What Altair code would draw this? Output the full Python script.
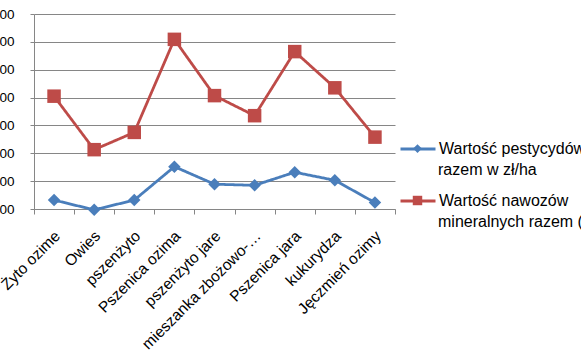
import altair as alt
import pandas as pd

categories = ["Żyto ozime", "Owies", "pszenżyto", "Pszenica ozima", "pszenżyto jare",
              "mieszanka zbożowo-strączkowa", "Pszenica jara", "kukurydza", "Jęczmień ozimy"]
pestycydy = [132, 97, 132, 252, 189, 185, 232, 203, 123]
nawozy = [505, 313, 375, 709, 507, 435, 665, 535, 358]
series_names = ["Wartość pestycydów razem w zł/ha", "Wartość nawozów mineralnych razem (zł/ha)"]
legend_line1 = ["Wartość pestycydów", "Wartość nawozów"]
legend_line2 = ["razem w zł/ha", "mineralnych razem (zł/ha)"]
colors = ["#4A7EBB", "#BE4B48"]
y_ticks = [100, 200, 300, 400, 500, 600, 700, 800]

rows = []
for i, vals in enumerate([pestycydy, nawozy]):
    for c, v in zip(categories, vals):
        rows.append({"kategoria": c, "seria": series_names[i], "linia1": legend_line1[i],
                     "linia2": legend_line2[i], "wartosc": v})
df = pd.DataFrame(rows)

FONT = "Liberation Sans"
# marker shapes (unit box -1..1), drawn small inside a large symbol box
DIAMOND = "M0,-0.25L0.25,0L0,0.25L-0.25,0Z"
SQUARE = "M-0.27,-0.27L0.27,-0.27L0.27,0.27L-0.27,0.27Z"

LEG_X, LEG_Y, SYM, ROWPAD = 365, 116, 1225, 25
common = dict(title=None, orient="none", legendX=LEG_X, symbolSize=SYM, rowPadding=ROWPAD,
              labelFontSize=16, labelFont=FONT, labelOffset=2, labelLimit=300)

x = alt.X("kategoria:N", sort=categories, title=None,
          scale=alt.Scale(type="band", paddingInner=0, paddingOuter=0),
          axis=alt.Axis(labelAngle=-45, labelAlign="right", labelBaseline="middle",
                        labelFontSize=15.5, labelFont=FONT, labelColor="#000000",
                        labelLimit=161, labelPadding=19, labelOffset=3, tickBand="extent", tickSize=5,
                        tickColor="#868686", domainColor="#868686", grid=False))
y = alt.Y("wartosc:Q", title=None,
          scale=alt.Scale(domain=[100, 800], nice=False, zero=False),
          axis=alt.Axis(values=y_ticks, format="d",
                        labelFontSize=13.5, labelFont=FONT, labelColor="#000000", labelPadding=16,
                        tickSize=4, tickColor="#868686", domainColor="#868686",
                        gridColor="#868686", gridWidth=1))

base = alt.Chart(df)

lines = base.mark_line(strokeWidth=2.8, clip=False).encode(
    x=x, y=y,
    stroke=alt.Stroke("linia1:N", scale=alt.Scale(domain=legend_line1, range=colors),
                      legend=alt.Legend(legendY=LEG_Y, symbolType="stroke", symbolStrokeWidth=2.8,
                                        labelColor="#000000", **common)),
    strokeDash=alt.StrokeDash("linia2:N", scale=alt.Scale(domain=legend_line2, range=[[1, 0], [1, 0]]),
                              legend=alt.Legend(legendY=LEG_Y + 21, symbolType="stroke",
                                                symbolOpacity=0, symbolStrokeColor="transparent",
                                                labelColor="#000000", **common)),
)

marker_legend = alt.Legend(legendY=LEG_Y, symbolOpacity=1, labelColor="transparent", **common)
points = base.mark_point(filled=True, opacity=1, size=2500, clip=False).encode(
    x=x, y=y,
    color=alt.Color("seria:N", scale=alt.Scale(domain=series_names, range=colors), legend=marker_legend),
    shape=alt.Shape("seria:N", scale=alt.Scale(domain=series_names, range=[DIAMOND, SQUARE]),
                    legend=marker_legend),
)

chart = alt.layer(lines, points).properties(
    width=361, height=195,
    autosize=alt.AutoSizeParams(type="none"),
    padding={"left": 34, "top": 14, "right": 186, "bottom": 142},
    background="white",
).configure_view(stroke=None)

chart.save("out.html", embed_options={"renderer": "svg", "actions": False})
